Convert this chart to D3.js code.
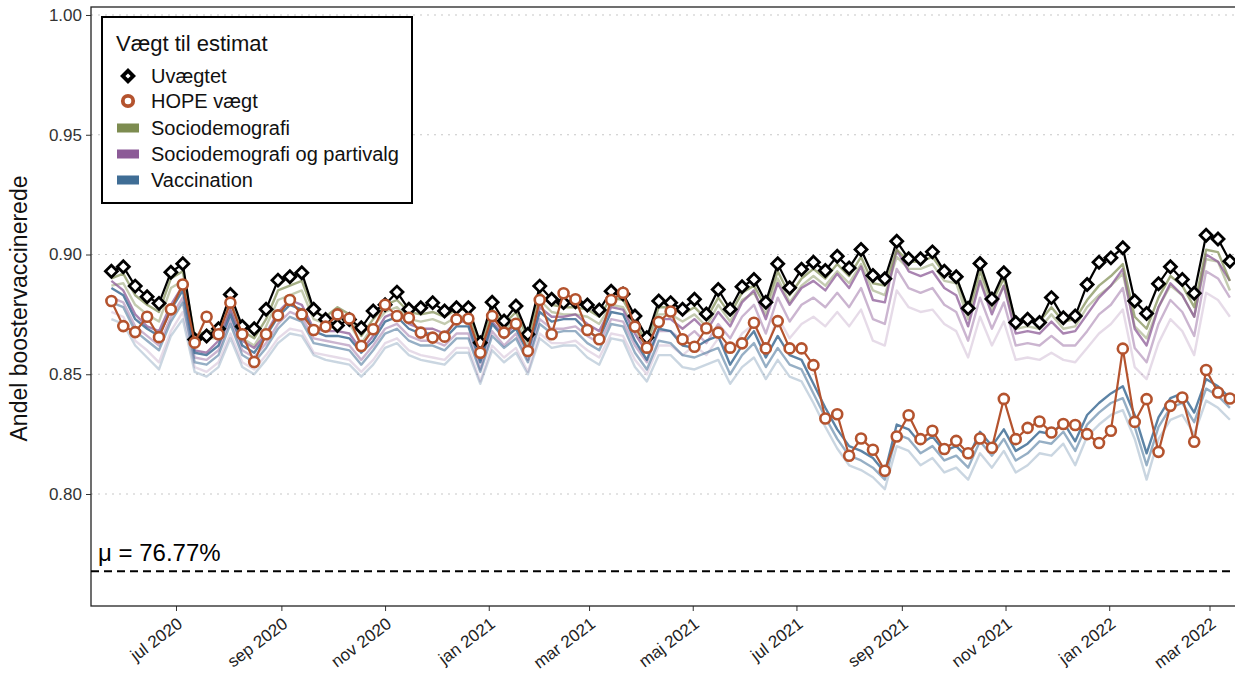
<!DOCTYPE html>
<html><head><meta charset="utf-8">
<script src="https://cdn.jsdelivr.net/npm/d3@7"></script>
<style>
body{margin:0;background:#fff;}
text{font-family:"Liberation Sans",Arial,sans-serif;}
</style></head>
<body><svg id="c" width="1235" height="675"></svg>
<script>
// ---- data ----
const firstWeek = "2020-05-24";
const uvaegtet = [0.893,0.8949,0.8868,0.8824,0.8796,0.8926,0.8961,0.8645,0.866,0.869,0.8833,0.8699,0.869,0.8771,0.8893,0.8907,0.8924,0.8771,0.8729,0.8704,0.8729,0.8694,0.8764,0.879,0.8843,0.8771,0.8778,0.8799,0.8764,0.8778,0.8778,0.8632,0.8801,0.8722,0.8785,0.8667,0.8868,0.8813,0.8799,0.8803,0.8789,0.8768,0.8847,0.8835,0.8743,0.8653,0.8806,0.8799,0.8771,0.8813,0.8752,0.8854,0.8771,0.8865,0.8896,0.8801,0.8961,0.8861,0.8938,0.8968,0.8933,0.8993,0.8944,0.9021,0.8912,0.8899,0.9055,0.8982,0.8982,0.9011,0.893,0.8907,0.8776,0.8962,0.8814,0.8924,0.8716,0.873,0.8716,0.882,0.8736,0.8743,0.8875,0.8968,0.8986,0.9028,0.8806,0.8754,0.8878,0.8949,0.8896,0.8838,0.908,0.9065,0.8972];
const hope = [0.8806,0.8701,0.8676,0.874,0.8655,0.8771,0.8875,0.8632,0.874,0.8667,0.8799,0.8667,0.8551,0.8667,0.8746,0.881,0.875,0.8685,0.8699,0.875,0.8733,0.8618,0.8688,0.879,0.8743,0.8736,0.8674,0.8653,0.8657,0.8729,0.8732,0.859,0.8743,0.8674,0.8711,0.8597,0.881,0.8667,0.8838,0.8813,0.8685,0.8646,0.881,0.884,0.8699,0.8611,0.8718,0.8762,0.8646,0.8615,0.8692,0.8674,0.8611,0.8629,0.8715,0.8608,0.8722,0.8608,0.8608,0.8538,0.8315,0.8333,0.816,0.8232,0.8185,0.8097,0.824,0.8329,0.8229,0.8264,0.8188,0.8222,0.817,0.8232,0.8193,0.8397,0.8229,0.8276,0.8303,0.8257,0.8292,0.8288,0.825,0.8213,0.8264,0.8607,0.8301,0.8396,0.8176,0.8368,0.8403,0.8218,0.8518,0.8424,0.8399];
const socio1 = [0.890,0.892,0.883,0.879,0.876,0.890,0.893,0.866,0.868,0.868,0.880,0.868,0.865,0.873,0.885,0.887,0.889,0.876,0.874,0.878,0.875,0.866,0.873,0.879,0.881,0.876,0.875,0.876,0.874,0.877,0.877,0.861,0.877,0.871,0.876,0.865,0.884,0.879,0.878,0.878,0.877,0.874,0.882,0.881,0.872,0.863,0.878,0.878,0.875,0.878,0.873,0.882,0.875,0.884,0.887,0.878,0.893,0.883,0.890,0.894,0.890,0.896,0.891,0.899,0.888,0.887,0.902,0.897,0.897,0.899,0.892,0.891,0.876,0.893,0.880,0.890,0.872,0.873,0.872,0.878,0.872,0.873,0.881,0.887,0.891,0.896,0.874,0.869,0.882,0.891,0.887,0.878,0.902,0.901,0.889];
const socio2 = [0.887,0.888,0.879,0.875,0.872,0.886,0.889,0.864,0.865,0.865,0.877,0.865,0.862,0.870,0.881,0.883,0.885,0.873,0.871,0.874,0.871,0.863,0.870,0.876,0.878,0.873,0.872,0.873,0.871,0.874,0.874,0.858,0.874,0.868,0.873,0.862,0.881,0.876,0.875,0.875,0.874,0.871,0.879,0.878,0.869,0.860,0.875,0.875,0.872,0.875,0.870,0.879,0.872,0.881,0.884,0.875,0.890,0.880,0.887,0.891,0.887,0.893,0.888,0.896,0.885,0.883,0.899,0.894,0.894,0.896,0.889,0.888,0.873,0.890,0.877,0.887,0.869,0.870,0.869,0.875,0.869,0.870,0.878,0.883,0.887,0.892,0.870,0.865,0.878,0.887,0.883,0.874,0.898,0.897,0.885];
const parti1 = [0.889,0.885,0.875,0.870,0.868,0.879,0.887,0.860,0.859,0.864,0.877,0.864,0.861,0.867,0.876,0.881,0.879,0.869,0.868,0.868,0.867,0.860,0.866,0.874,0.876,0.871,0.869,0.869,0.867,0.872,0.872,0.856,0.872,0.866,0.871,0.860,0.878,0.874,0.874,0.875,0.871,0.868,0.878,0.877,0.867,0.859,0.873,0.873,0.869,0.873,0.868,0.876,0.870,0.880,0.885,0.873,0.888,0.879,0.886,0.889,0.885,0.892,0.886,0.895,0.881,0.880,0.902,0.893,0.891,0.893,0.886,0.883,0.870,0.889,0.875,0.887,0.867,0.868,0.867,0.872,0.867,0.868,0.875,0.882,0.887,0.894,0.869,0.862,0.878,0.888,0.883,0.874,0.900,0.897,0.889];
const parti2 = [0.882,0.880,0.870,0.866,0.862,0.874,0.882,0.857,0.856,0.860,0.873,0.860,0.857,0.863,0.871,0.876,0.874,0.865,0.864,0.863,0.862,0.856,0.862,0.869,0.871,0.866,0.864,0.864,0.862,0.867,0.867,0.852,0.868,0.862,0.867,0.856,0.873,0.869,0.869,0.870,0.866,0.863,0.873,0.872,0.862,0.855,0.868,0.868,0.864,0.868,0.863,0.871,0.865,0.874,0.879,0.867,0.882,0.872,0.879,0.882,0.878,0.884,0.878,0.886,0.873,0.871,0.894,0.886,0.884,0.886,0.879,0.876,0.864,0.882,0.869,0.880,0.862,0.863,0.862,0.866,0.862,0.862,0.868,0.875,0.879,0.886,0.861,0.855,0.871,0.881,0.876,0.866,0.893,0.890,0.882];
const parti3 = [0.876,0.874,0.864,0.860,0.855,0.868,0.876,0.853,0.851,0.855,0.867,0.855,0.852,0.858,0.865,0.869,0.868,0.859,0.858,0.857,0.856,0.851,0.856,0.863,0.865,0.860,0.858,0.857,0.856,0.861,0.861,0.847,0.862,0.857,0.861,0.851,0.867,0.863,0.863,0.864,0.860,0.857,0.867,0.866,0.856,0.850,0.862,0.862,0.858,0.862,0.858,0.865,0.859,0.867,0.871,0.860,0.874,0.865,0.871,0.874,0.870,0.876,0.870,0.877,0.864,0.862,0.885,0.878,0.876,0.877,0.871,0.868,0.857,0.874,0.862,0.872,0.856,0.857,0.856,0.859,0.856,0.855,0.861,0.867,0.871,0.877,0.853,0.848,0.863,0.873,0.868,0.858,0.884,0.881,0.874];
const vacc1 = [0.886,0.883,0.873,0.869,0.866,0.877,0.885,0.859,0.858,0.862,0.875,0.862,0.859,0.866,0.874,0.879,0.877,0.868,0.866,0.866,0.865,0.859,0.864,0.872,0.874,0.869,0.867,0.867,0.865,0.870,0.870,0.855,0.871,0.865,0.869,0.859,0.876,0.872,0.873,0.873,0.868,0.865,0.876,0.875,0.864,0.856,0.869,0.868,0.862,0.861,0.864,0.866,0.854,0.862,0.868,0.857,0.866,0.858,0.856,0.846,0.836,0.827,0.820,0.818,0.815,0.809,0.829,0.827,0.821,0.824,0.818,0.820,0.815,0.826,0.820,0.827,0.818,0.821,0.826,0.825,0.830,0.822,0.833,0.838,0.842,0.845,0.833,0.817,0.832,0.840,0.842,0.834,0.848,0.845,0.840];
const vacc2 = [0.880,0.878,0.868,0.864,0.860,0.872,0.880,0.855,0.854,0.858,0.871,0.858,0.855,0.861,0.869,0.874,0.872,0.863,0.862,0.861,0.860,0.854,0.860,0.867,0.869,0.864,0.862,0.862,0.860,0.865,0.865,0.851,0.866,0.861,0.865,0.855,0.871,0.867,0.868,0.868,0.863,0.860,0.871,0.870,0.859,0.852,0.864,0.863,0.858,0.857,0.859,0.861,0.850,0.858,0.863,0.853,0.861,0.854,0.852,0.842,0.832,0.823,0.816,0.814,0.811,0.806,0.825,0.823,0.817,0.820,0.814,0.816,0.811,0.822,0.816,0.823,0.814,0.817,0.822,0.821,0.826,0.818,0.829,0.834,0.838,0.840,0.828,0.812,0.828,0.836,0.838,0.830,0.844,0.841,0.836];
const vacc3 = [0.873,0.871,0.862,0.857,0.852,0.866,0.873,0.851,0.849,0.853,0.865,0.853,0.850,0.856,0.863,0.867,0.866,0.858,0.856,0.855,0.854,0.849,0.854,0.861,0.863,0.858,0.856,0.855,0.854,0.859,0.859,0.846,0.860,0.855,0.859,0.850,0.865,0.861,0.862,0.862,0.857,0.854,0.865,0.864,0.853,0.847,0.858,0.858,0.853,0.852,0.854,0.856,0.846,0.853,0.857,0.848,0.856,0.849,0.847,0.838,0.828,0.819,0.812,0.810,0.807,0.802,0.820,0.818,0.812,0.815,0.809,0.811,0.806,0.817,0.811,0.818,0.809,0.812,0.817,0.816,0.821,0.812,0.824,0.829,0.833,0.835,0.823,0.806,0.823,0.831,0.833,0.825,0.839,0.836,0.831];
const muValue = 0.7677;
const yTicks = [0.80, 0.85, 0.90, 0.95, 1.00];
const xTickDates = ["2020-07-01","2020-09-01","2020-11-01","2021-01-01","2021-03-01","2021-05-01","2021-07-01","2021-09-01","2021-11-01","2022-01-01","2022-03-01"];
const xTickLabels = ["jul 2020","sep 2020","nov 2020","jan 2021","mar 2021","maj 2021","jul 2021","sep 2021","nov 2021","jan 2022","mar 2022"];
const legendLabels = ["Uvægtet","HOPE vægt","Sociodemografi","Sociodemografi og partivalg","Vaccination"];
const colors = {black:"#000000", hope:"#b4532e", socio:"#7d8c50", parti:"#8c5b97", vacc:"#3f6d95"};

// ---- setup ----
const parse = d3.utcParse("%Y-%m-%d");
const start = parse(firstWeek);
const dates = uvaegtet.map((_, i) => d3.utcDay.offset(start, 7 * i));
const svg = d3.select("#c");
const L = 91, R = 1245, T = 7, B = 606;
const x = d3.scaleUtc().domain([parse("2020-05-12"), parse("2022-03-16")]).range([91, 1235]);
const y = d3.scaleLinear().domain([0.75324, 1.00334]).range([B, T]);

// grid
svg.append("g").selectAll("line").data(yTicks).join("line")
  .attr("x1", L).attr("x2", R).attr("y1", d => y(d)).attr("y2", d => y(d))
  .attr("stroke", "#c8c8c8").attr("stroke-width", 1.2).attr("stroke-dasharray", "2,5");

// axes
const yAxis = d3.axisLeft(y).tickValues(yTicks).tickFormat(d3.format(".2f")).tickSize(5).tickPadding(4);
const gy = svg.append("g").attr("transform", `translate(${L},0)`).call(yAxis);
gy.select(".domain").remove();
gy.selectAll("text").attr("font-size", 17).attr("fill", "#333");
gy.selectAll("line").attr("stroke", "#333");

const xAxis = d3.axisBottom(x).tickValues(xTickDates.map(parse)).tickFormat((d, i) => xTickLabels[i]).tickSize(5);
const gx = svg.append("g").attr("transform", `translate(0,${B})`).call(xAxis);
gx.select(".domain").remove();
gx.selectAll("line").attr("stroke", "#333");
gx.selectAll("text").attr("font-size", 17).attr("fill", "#222")
  .attr("text-anchor", "end").attr("dy", null).attr("y", 0)
  .attr("transform", "translate(7,20) rotate(-37)");

// panel border
svg.append("rect").attr("x", L).attr("y", T).attr("width", R - L).attr("height", B - T)
  .attr("fill", "none").attr("stroke", "#222").attr("stroke-width", 1.3);

// y title
svg.append("text").attr("transform", `translate(27,${(T + B) / 2 + 2}) rotate(-90)`)
  .attr("text-anchor", "middle").attr("font-size", 23).attr("fill", "#111")
  .text("Andel boostervaccinerede");

// mu line
svg.append("line").attr("x1", L).attr("x2", R).attr("y1", y(muValue)).attr("y2", y(muValue))
  .attr("stroke", "#000").attr("stroke-width", 2).attr("stroke-dasharray", "8,5");
svg.append("text").attr("x", 98).attr("y", y(muValue) - 10).attr("font-size", 24).attr("fill", "#000")
  .text("μ = " + d3.format(".2f")(muValue * 100) + "%");

const line = d3.line().x((d, i) => x(dates[i])).y(d => y(d));
const g = svg.append("g");
const groupLines = [
  [parti3, colors.parti, 0.22], [vacc3, colors.vacc, 0.28],
  [parti2, colors.parti, 0.45], [vacc2, colors.vacc, 0.55],
  [socio2, colors.socio, 0.45],
  [parti1, colors.parti, 0.75], [vacc1, colors.vacc, 0.85],
  [socio1, colors.socio, 0.7]
];
groupLines.forEach(([arr, col, op]) => {
  g.append("path").datum(arr).attr("d", line).attr("fill", "none")
    .attr("stroke", col).attr("stroke-opacity", op).attr("stroke-width", 2.4).attr("stroke-linejoin", "round");
});

// Uvaegtet
g.append("path").datum(uvaegtet).attr("d", line).attr("fill", "none").attr("stroke", "#000").attr("stroke-width", 2.2);
const diamond = d3.symbol(d3.symbolSquare, 72);
g.selectAll(".dia").data(uvaegtet).join("path").attr("class", "dia")
  .attr("d", diamond).attr("transform", (d, i) => `translate(${x(dates[i])},${y(d)}) rotate(45)`)
  .attr("fill", "#fff").attr("stroke", "#000").attr("stroke-width", 2.8);

// HOPE
g.append("path").datum(hope).attr("d", line).attr("fill", "none").attr("stroke", colors.hope).attr("stroke-width", 2.2);
g.selectAll(".hc").data(hope).join("circle").attr("class", "hc")
  .attr("cx", (d, i) => x(dates[i])).attr("cy", d => y(d)).attr("r", 5)
  .attr("fill", "#fff").attr("stroke", colors.hope).attr("stroke-width", 2.6);

// legend
const lg = svg.append("g");
lg.append("rect").attr("x", 102).attr("y", 17).attr("width", 310).attr("height", 186)
  .attr("fill", "#fff").attr("stroke", "#000").attr("stroke-width", 2);
lg.append("text").attr("x", 116).attr("y", 51).attr("font-size", 22).attr("fill", "#111").text("Vægt til estimat");
const rowY = [76, 101, 128, 154, 180];
legendLabels.forEach((lab, i) => {
  const cy = rowY[i];
  lg.append("text").attr("x", 151).attr("y", cy + 7).attr("font-size", 20).attr("fill", "#111").text(lab);
  if (i === 0) {
    lg.append("path").attr("d", d3.symbol(d3.symbolSquare, 56)).attr("transform", `translate(128,${cy}) rotate(45)`)
      .attr("fill", "#fff").attr("stroke", "#000").attr("stroke-width", 3.8);
  } else if (i === 1) {
    lg.append("circle").attr("cx", 128).attr("cy", cy).attr("r", 5.2).attr("fill", "#fff")
      .attr("stroke", colors.hope).attr("stroke-width", 3.8);
  } else {
    const col = [colors.socio, colors.parti, colors.vacc][i - 2];
    lg.append("rect").attr("x", 117).attr("y", cy - 4.5).attr("width", 22).attr("height", 9).attr("fill", col);
  }
});
</script></body></html>
